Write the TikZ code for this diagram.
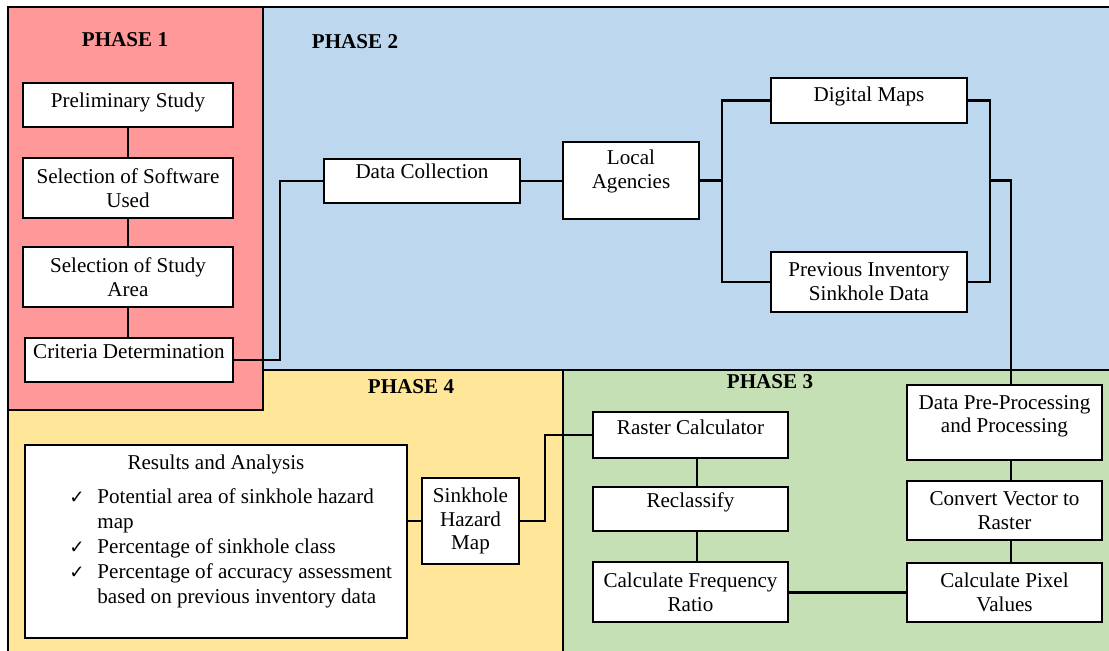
\documentclass[tikz,border=0pt]{standalone}
\usepackage{fontspec}
\setmainfont{Liberation Serif}
\newfontfamily\checkfont{DejaVu Sans}
\usepackage{xcolor}
\usetikzlibrary{positioning,calc}
\definecolor{phred}{RGB}{255,153,153}
\definecolor{phblue}{RGB}{189,215,238}
\definecolor{phyellow}{RGB}{255,230,153}
\definecolor{phgreen}{RGB}{197,224,180}
\newcommand{\chk}{{\checkfont\fontsize{13}{15}\selectfont ✓}}
\tikzset{
  box/.style 2 args={draw, fill=white, line width=1.4pt, inner sep=2pt,
    minimum width=#1*0.025cm, minimum height=#2*0.025cm, anchor=north west},
  lift/.style={text depth=#1*0.025cm}
}

\begin{document}
\begin{tikzpicture}[
  x=0.025cm, y=-0.025cm,
  font=\fontsize{15}{17}\selectfont,
  every node/.style={align=center},
  link/.style={line width=1.5pt},
  phase/.style={draw, line width=1.4pt},
  lab/.style={font=\fontsize{15}{17}\selectfont\bfseries}
]
\useasboundingbox (0,0) rectangle (1109,650);
% phase areas
\draw[phase, fill=phyellow] (8,370) rectangle (1120,660);
\draw[phase, fill=phgreen] (563,370) rectangle (1120,660);
\draw[phase, fill=phblue] (263,7) rectangle (1120,370);
\draw[phase, fill=phred] (8,7) rectangle (263,410);
\node[lab] (lab1) at (125,40) {PHASE 1};
\node[lab] (lab2) at (355,42) {PHASE 2};
\node[lab] (lab3) at (770,382) {PHASE 3};
\node[lab] (lab4) at (411,387) {PHASE 4};
% phase 1
\node[box={210}{44}, lift=10] (prelim) at (22,82) {Preliminary Study};
\node[box={210}{60}] (software) at (22,157) {Selection of Software\\Used};
\node[box={210}{60}] (area) at (22,246) {Selection of Study\\Area};
\node[box={208}{44}, lift=17] (criteria) at (24,337) {Criteria Determination};
% phase 2
\node[box={196}{44}, lift=19] (collect) at (323,158) {Data Collection};
\node[box={136}{77}, lift=22] (agencies) at (562,141) {Local\\Agencies};
\node[box={196}{45}, lift=13] (digital) at (770,77) {Digital Maps};
\node[box={196}{60}] (previous) at (770,251) {Previous Inventory\\Sinkhole Data};
% phase 3
\node[box={195}{75}, lift=17] (prep) at (906,384) {Data Pre-Processing\\and Processing};
\node[box={195}{59}] (convert) at (906,480) {Convert Vector to\\Raster};
\node[box={195}{59}] (pixel) at (906,562) {Calculate Pixel\\Values};
\node[box={195}{46}, lift=15] (raster) at (592,411) {Raster Calculator};
\node[box={195}{44}, lift=17] (reclass) at (592,486) {Reclassify};
\node[box={195}{60}] (freq) at (592,561) {Calculate Frequency\\Ratio};
% phase 4
\node[box={97}{86}] (hazard) at (421,477) {Sinkhole\\Hazard\\Map};
\node[box={382}{193}, lift=24] (results) at (24,444) {Results and Analysis\\[7pt]
  \renewcommand{\arraystretch}{1.05}%
  \begin{tabular}[b]{@{\hspace{21pt}}r@{\hspace{9pt}}l@{}}
  \chk & Potential area of sinkhole hazard\\
       & map\\
  \chk & Percentage of sinkhole class\\
  \chk & Percentage of accuracy assessment\\
       & based on previous inventory data
  \end{tabular}};
% connectors
\draw[link] (prelim) -- (software);
\draw[link] (software) -- (area);
\draw[link] (area.south) -- (area.south |- criteria.north);
\draw[link] (criteria.east) -- ++(46,0) |- (collect.west);
\draw[link] (collect.east) -- (collect.east -| agencies.west);
\draw[link] (agencies.east) -- ++(22,0) coordinate (split);
\draw[link] (digital.west) -| (split) |- (previous.west);
\draw[link] (digital.east) -- ++(22,0) coordinate (join) |- (previous.east);
\coordinate (merge) at (join |- agencies.east);
\draw[link] (merge) -| ([xshift=4.6pt]prep.north);
\draw[link] ([xshift=4.6pt]prep.south) -- ([xshift=4.6pt]convert.north);
\draw[link] ([xshift=4.6pt]convert.south) -- ([xshift=4.6pt]pixel.north);
\draw[link] (pixel.west) -- (pixel.west -| freq.east);
\draw[link] ([xshift=4.6pt]freq.north) -- ([xshift=4.6pt]reclass.south);
\draw[link] ([xshift=4.6pt]reclass.north) -- ([xshift=4.6pt]raster.south);
\draw[link] (raster.west) -- ++(-47,0) |- (hazard.east);
\draw[link] (hazard.west) -- (hazard.west -| results.east);
\end{tikzpicture}
\end{document}
